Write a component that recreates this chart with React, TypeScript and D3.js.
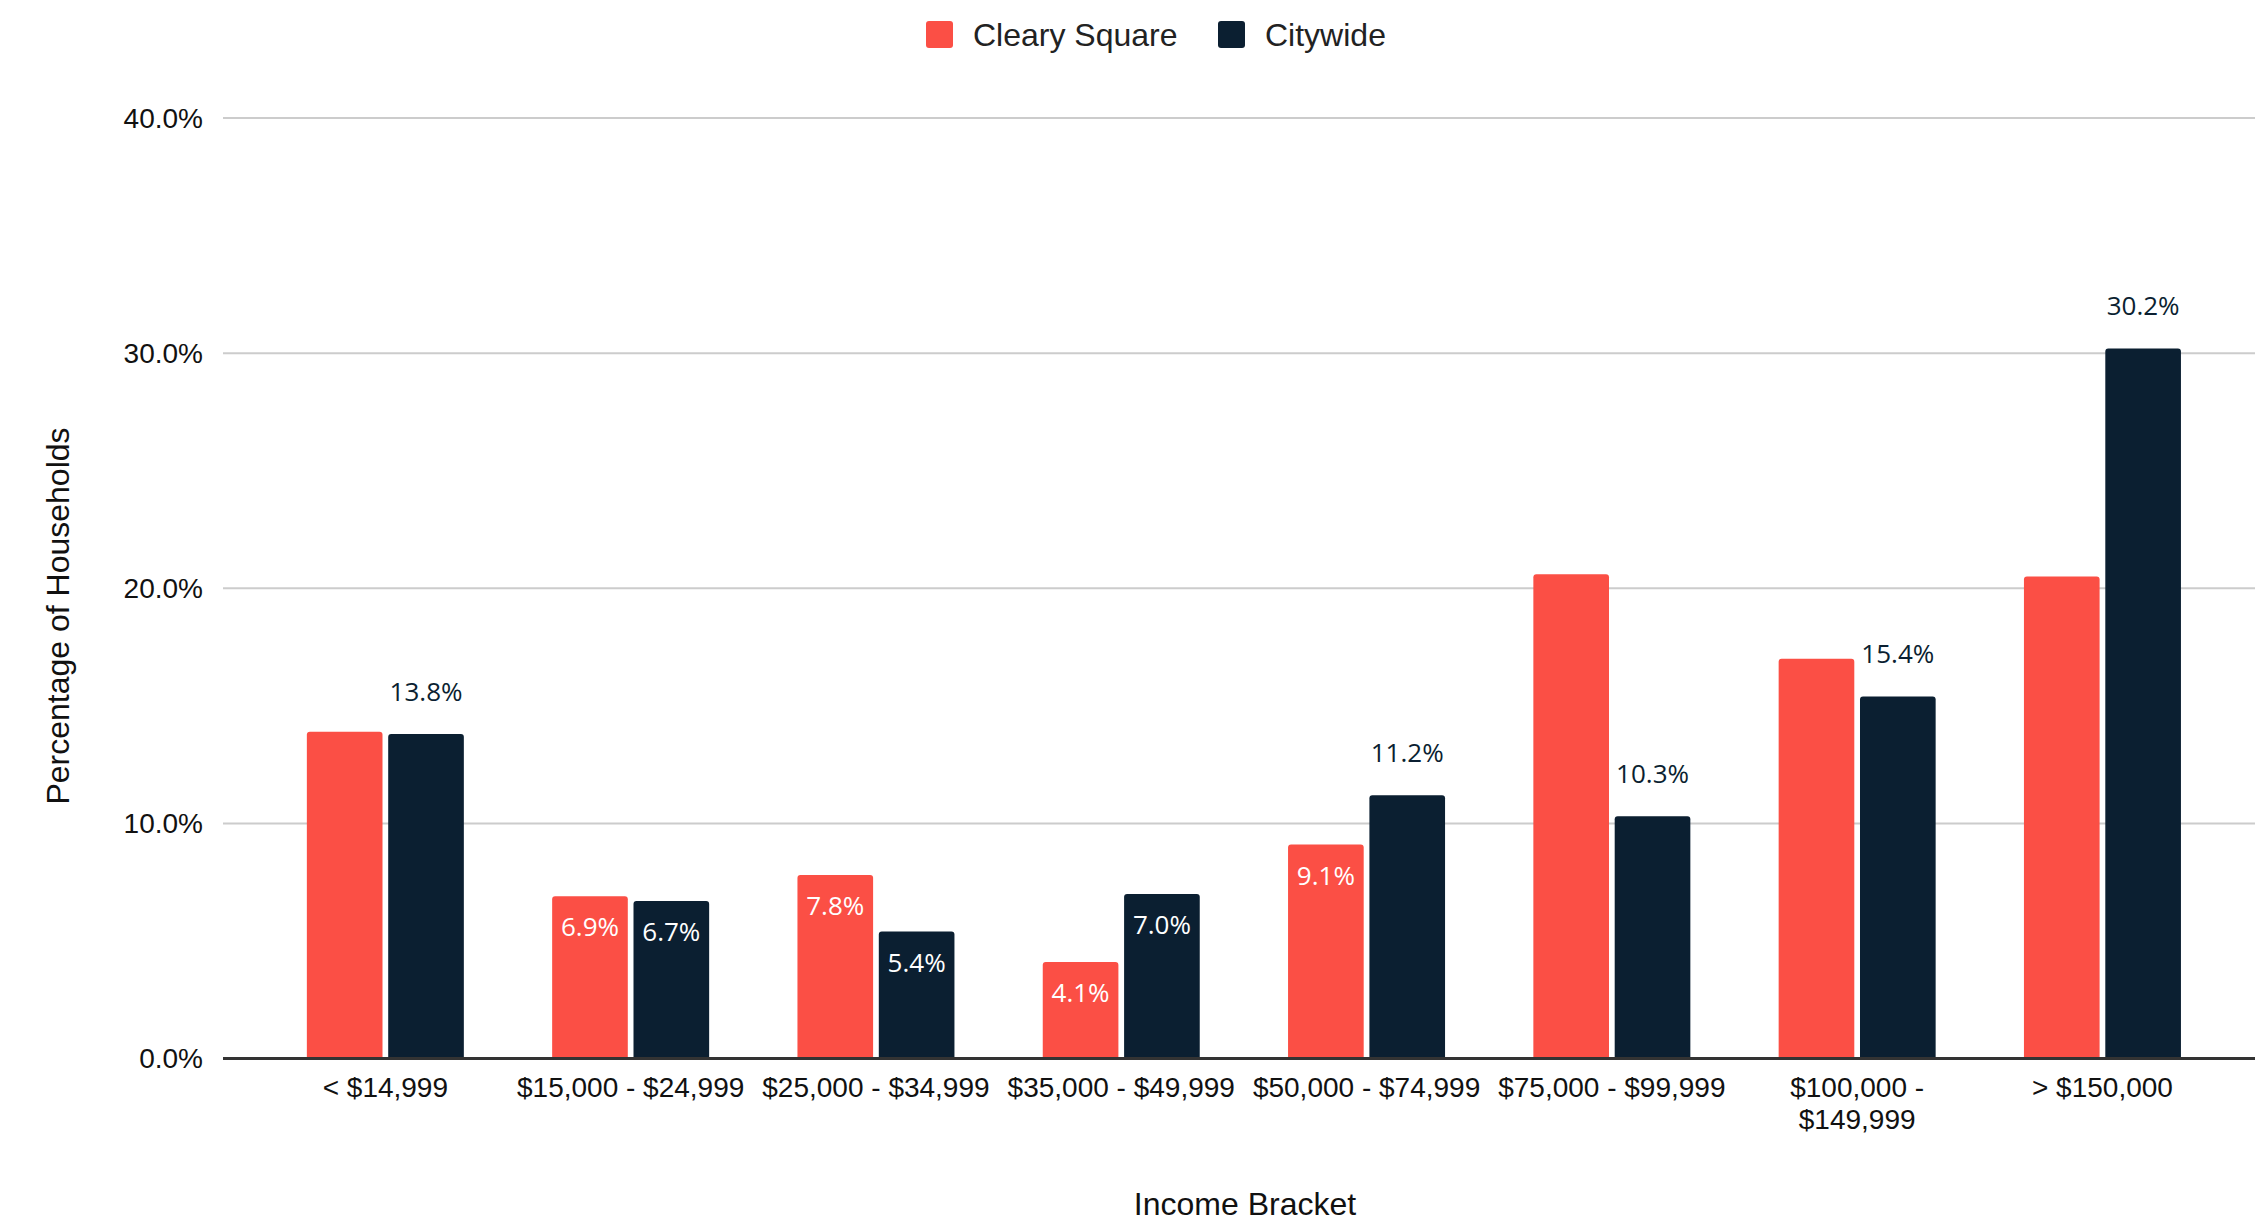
import { useEffect } from "react";
import * as d3 from "d3";

const categories = [
  "< $14,999",
  "$15,000 - $24,999",
  "$25,000 - $34,999",
  "$35,000 - $49,999",
  "$50,000 - $74,999",
  "$75,000 - $99,999",
  "$100,000 -\n$149,999",
  "> $150,000",
];
const seriesNames = ["Cleary Square", "Citywide"];
const clearySquare = [13.9, 6.9, 7.8, 4.1, 9.1, 20.6, 17.0, 20.5];
const citywide = [13.8, 6.7, 5.4, 7.0, 11.2, 10.3, 15.4, 30.2];
// where each data label sits: "in" = inside bar top, "out" = above bar, null = hidden
const clearyLabels = [null, "in", "in", "in", "in", null, null, null];
const citywideLabels = ["out", "in", "in", "in", "out", "out", "out", "out"];
const yTicks = [0, 10, 20, 30, 40];
const colors = ["#fb4f45", "#0b1f31"];

const W = 2255;
const H = 1227;
const sans = "'Liberation Sans', Arial, sans-serif";

function topRounded(x: number, y: number, w: number, h: number, r: number) {
  const rr = Math.min(r, h);
  return `M${x},${y + h}V${y + rr}Q${x},${y} ${x + rr},${y}H${x + w - rr}Q${x + w},${y} ${x + w},${y + rr}V${y + h}Z`;
}

export default function App() {
  useEffect(() => {
    document.body.style.margin = "0";
  }, []);

  const x = d3
    .scaleBand<string>()
    .domain(categories)
    .range([262.7, 262.7 + 245.3 * categories.length])
    .padding(0);
  const inner = d3
    .scaleBand<string>()
    .domain(seriesNames)
    .range([-78.5, 78.5])
    .paddingInner(0.07);
  const y = d3.scaleLinear().domain([0, 40]).range([1058.5, 118]);
  const fmt = (v: number) => `${v.toFixed(1)}%`;

  const series = [
    { name: seriesNames[0], values: clearySquare, labels: clearyLabels, color: colors[0] },
    { name: seriesNames[1], values: citywide, labels: citywideLabels, color: colors[1] },
  ];

  return (
    <svg width={W} height={H} style={{ display: "block", background: "#fff" }}>
      {/* legend */}
      <g fontFamily={sans} fontSize={32} fill="#222">
        <rect x={926} y={21} width={27} height={27} rx={3} fill={colors[0]} />
        <text x={973} y={35} dominantBaseline="central">{seriesNames[0]}</text>
        <rect x={1218} y={21} width={27} height={27} rx={3} fill={colors[1]} />
        <text x={1265} y={35} dominantBaseline="central">{seriesNames[1]}</text>
      </g>

      {/* grid + y ticks */}
      <g fontFamily={sans} fontSize={28} fill="#111">
        {yTicks.map((t) => (
          <g key={t}>
            {t !== 0 && (
              <line x1={223} x2={W} y1={y(t)} y2={y(t)} stroke="#cccccc" strokeWidth={2} />
            )}
            <text x={203} y={y(t)} textAnchor="end" dominantBaseline="central">
              {fmt(t)}
            </text>
          </g>
        ))}
      </g>

      {/* bars */}
      {series.map((s) => (
        <g key={s.name}>
          {s.values.map((v, i) => {
            const bx = x(categories[i])! + x.bandwidth() / 2 + inner(s.name)!;
            return (
              <path
                key={i}
                d={topRounded(bx, y(v), inner.bandwidth(), y(0) - y(v), 3)}
                fill={s.color}
              />
            );
          })}
        </g>
      ))}

      {/* baseline */}
      <line x1={223} x2={W} y1={y(0)} y2={y(0)} stroke="#333" strokeWidth={3} />

      {/* data labels */}
      <g fontFamily="'Open Sans', Roboto, sans-serif" fontSize={26}>
        {series.map((s) =>
          s.values.map((v, i) => {
            const pos = s.labels[i];
            if (!pos) return null;
            const cx = x(categories[i])! + x.bandwidth() / 2 + inner(s.name)! + inner.bandwidth() / 2;
            const ty = pos === "in" ? y(v) + 30 : y(v) - 43;
            return (
              <text
                key={s.name + i}
                x={cx}
                y={ty}
                textAnchor="middle"
                dominantBaseline="central"
                fill={pos === "in" ? "#fff" : colors[1]}
              >
                {fmt(v)}
              </text>
            );
          })
        )}
      </g>

      {/* x labels */}
      <g fontFamily={sans} fontSize={28} fill="#111">
        {categories.map((c) => (
          <text key={c} x={x(c)! + x.bandwidth() / 2} y={1087} textAnchor="middle" dominantBaseline="central">
            {c.split("\n").map((line, j) => (
              <tspan key={j} x={x(c)! + x.bandwidth() / 2} dy={j === 0 ? 0 : 32}>
                {line}
              </tspan>
            ))}
          </text>
        ))}
      </g>

      {/* axis titles */}
      <g fontFamily={sans} fontSize={32} fill="#111">
        <text x={1245} y={1204} textAnchor="middle" dominantBaseline="central">
          Income Bracket
        </text>
        <text
          transform="translate(58,616) rotate(-90)"
          textAnchor="middle"
          dominantBaseline="central"
        >
          Percentage of Households
        </text>
      </g>
    </svg>
  );
}
